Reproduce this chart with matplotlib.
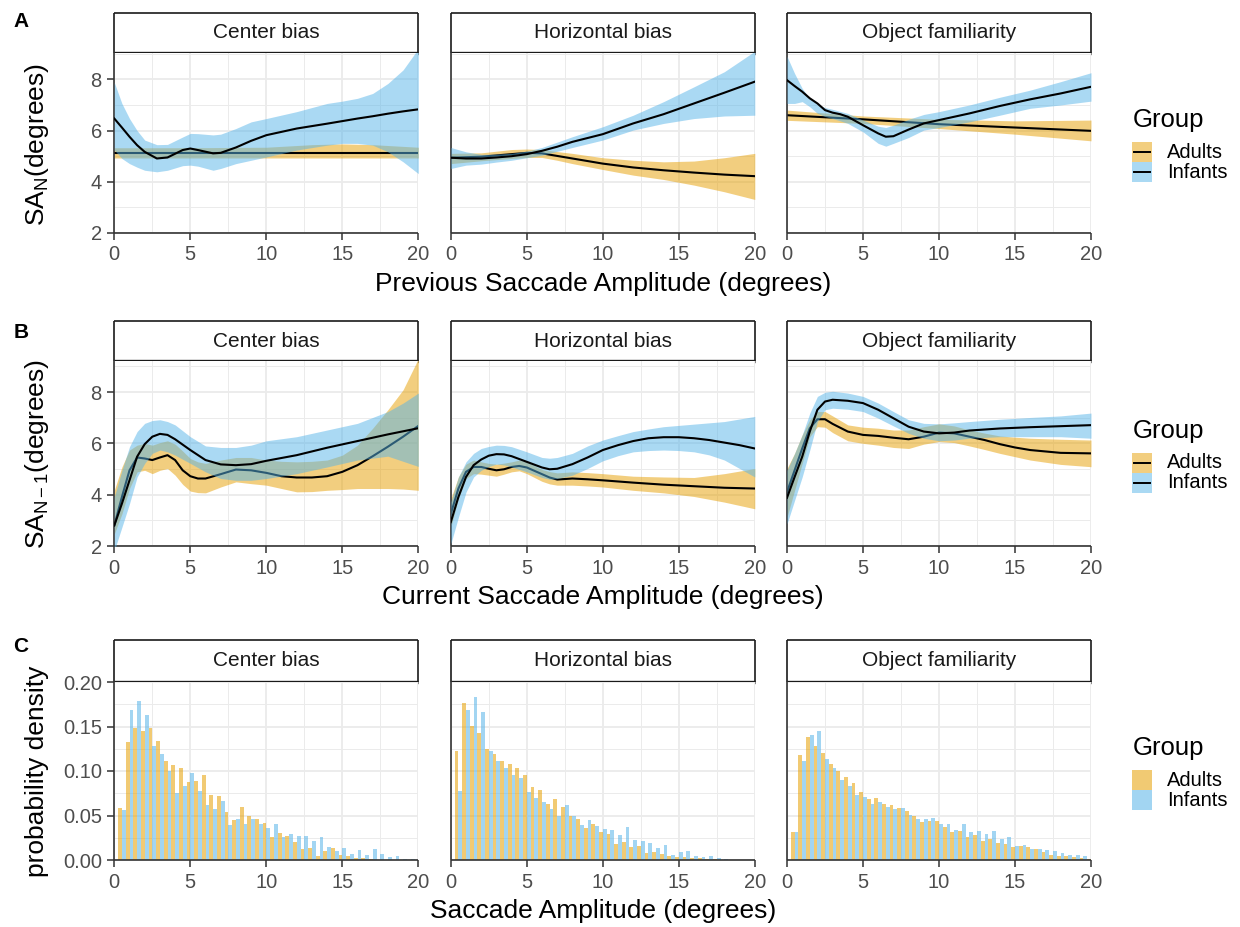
import matplotlib
matplotlib.use('Agg')
import matplotlib.pyplot as plt
from matplotlib.patches import Rectangle
from matplotlib.lines import Line2D

plt.rcParams['font.family'] = ['Liberation Sans', 'DejaVu Sans']
plt.rcParams['mathtext.fontset'] = 'custom'
plt.rcParams['mathtext.rm'] = 'Liberation Sans'
plt.rcParams['mathtext.it'] = 'Liberation Sans:italic'

# ---------------- data ----------------
facets = ['Center bias', 'Horizontal bias', 'Object familiarity']
groups = ['Adults', 'Infants']
x_ticks = [0, 5, 10, 15, 20]

# Panel A: SA_N vs previous saccade amplitude (smooth fit, lower, upper)
A_cb_ad_x = [0, 5, 10, 13, 15, 17, 20]
A_cb_ad_fit = [5.14, 5.14, 5.14, 5.14, 5.14, 5.14, 5.14]
A_cb_ad_lo = [4.93, 4.93, 4.93, 4.93, 4.93, 4.93, 4.93]
A_cb_ad_hi = [5.33, 5.33, 5.35, 5.45, 5.48, 5.45, 5.35]

A_cb_in_x = [0, 0.5, 1, 1.5, 2, 2.8, 3.5, 4.5, 5, 5.5, 6.5, 7, 8, 9, 10, 12, 14, 15, 16, 17, 18, 19, 20]
A_cb_in_fit = [6.47, 6.12, 5.76, 5.43, 5.17, 4.91, 4.95, 5.24, 5.30, 5.24, 5.11, 5.13, 5.34, 5.60, 5.82, 6.08, 6.27, 6.37, 6.47, 6.56, 6.66, 6.75, 6.83]
A_cb_in_lo = [5.24, 4.91, 4.71, 4.57, 4.45, 4.39, 4.45, 4.63, 4.65, 4.61, 4.45, 4.52, 4.71, 4.84, 4.97, 5.24, 5.43, 5.50, 5.50, 5.43, 5.17, 4.78, 4.32]
A_cb_in_hi = [7.88, 7.06, 6.47, 6.00, 5.63, 5.45, 5.46, 5.75, 5.89, 5.88, 5.83, 5.86, 6.08, 6.34, 6.47, 6.74, 7.06, 7.15, 7.26, 7.45, 7.84, 8.37, 9.20]

A_hb_ad_x = [0, 2, 4, 5, 6, 7, 8, 10, 12, 14, 16, 18, 20]
A_hb_ad_fit = [4.94, 4.98, 5.08, 5.13, 5.11, 5.01, 4.91, 4.71, 4.56, 4.45, 4.36, 4.28, 4.22]
A_hb_ad_lo = [4.71, 4.82, 4.91, 4.95, 4.95, 4.84, 4.71, 4.48, 4.26, 4.09, 3.87, 3.61, 3.31]
A_hb_ad_hi = [5.11, 5.13, 5.26, 5.28, 5.26, 5.18, 5.11, 4.94, 4.84, 4.78, 4.81, 4.94, 5.11]

A_hb_in_x = [0, 1, 2, 3, 4, 5, 6, 7, 8, 10, 12, 14, 16, 18, 20]
A_hb_in_fit = [4.94, 4.91, 4.91, 4.95, 5.00, 5.08, 5.21, 5.37, 5.56, 5.86, 6.28, 6.64, 7.06, 7.48, 7.91]
A_hb_in_lo = [4.52, 4.65, 4.69, 4.77, 4.84, 4.94, 5.04, 5.19, 5.34, 5.63, 6.02, 6.28, 6.47, 6.57, 6.60]
A_hb_in_hi = [5.34, 5.17, 5.07, 5.08, 5.11, 5.20, 5.34, 5.55, 5.76, 6.15, 6.60, 7.13, 7.71, 8.30, 9.10]

A_of_ad_x = [0, 5, 10, 15, 20]
A_of_ad_fit = [6.60, 6.44, 6.25, 6.12, 5.99]
A_of_ad_lo = [6.40, 6.28, 6.08, 5.86, 5.60]
A_of_ad_hi = [6.80, 6.57, 6.44, 6.38, 6.41]

A_of_in_x = [0, 0.5, 1, 1.5, 2, 2.5, 3, 3.5, 4, 5, 6, 6.5, 7, 8, 9, 10, 12, 14, 16, 18, 20]
A_of_in_fit = [7.97, 7.74, 7.52, 7.26, 7.06, 6.80, 6.70, 6.64, 6.54, 6.21, 5.89, 5.76, 5.78, 6.04, 6.28, 6.41, 6.67, 6.96, 7.22, 7.45, 7.71]
A_of_in_lo = [7.06, 7.06, 7.13, 6.93, 6.67, 6.55, 6.47, 6.38, 6.28, 5.95, 5.50, 5.39, 5.50, 5.73, 6.02, 6.12, 6.34, 6.60, 6.87, 7.00, 7.15]
A_of_in_hi = [8.90, 8.23, 7.65, 7.25, 7.02, 6.90, 6.83, 6.75, 6.67, 6.41, 6.17, 6.12, 6.21, 6.44, 6.63, 6.74, 7.00, 7.30, 7.58, 7.91, 8.26]

# Panel B: SA_N-1 vs current saccade amplitude
B_cb_ad_x = [0, 0.5, 1, 1.5, 2, 2.5, 3, 3.5, 4, 4.5, 5, 5.5, 6, 7, 8, 9, 10, 11, 12, 13, 14, 15, 16, 17, 18, 19, 20]
B_cb_ad_fit = [2.80, 3.91, 4.95, 5.45, 5.41, 5.35, 5.45, 5.54, 5.35, 4.95, 4.72, 4.63, 4.63, 4.80, 4.98, 4.95, 4.85, 4.72, 4.67, 4.67, 4.72, 4.89, 5.15, 5.50, 5.87, 6.26, 6.68]
B_cb_ad_lo = [2.47, 3.25, 4.24, 4.89, 4.95, 4.82, 4.95, 5.02, 4.76, 4.40, 4.14, 4.08, 4.07, 4.30, 4.50, 4.43, 4.37, 4.24, 4.11, 4.12, 4.17, 4.20, 4.24, 4.24, 4.24, 4.22, 4.17]
B_cb_ad_hi = [4.17, 5.08, 5.74, 5.93, 6.00, 5.93, 6.03, 6.10, 5.97, 5.70, 5.41, 5.28, 5.22, 5.35, 5.45, 5.45, 5.35, 5.30, 5.28, 5.30, 5.35, 5.54, 5.93, 6.59, 7.31, 8.09, 9.30]

B_cb_in_x = [0, 0.5, 1, 1.5, 2, 2.5, 3, 3.5, 4, 5, 6, 7, 8, 9, 10, 12, 14, 16, 18, 19, 20]
B_cb_in_fit = [2.80, 3.65, 4.56, 5.48, 5.97, 6.26, 6.37, 6.33, 6.16, 5.74, 5.35, 5.18, 5.15, 5.19, 5.32, 5.54, 5.83, 6.09, 6.35, 6.47, 6.59]
B_cb_in_lo = [1.82, 2.73, 3.65, 4.69, 5.22, 5.61, 5.74, 5.67, 5.54, 5.22, 4.89, 4.63, 4.56, 4.56, 4.63, 4.82, 5.08, 5.35, 5.50, 5.30, 5.10]
B_cb_in_hi = [3.91, 4.95, 5.87, 6.46, 6.78, 6.89, 6.92, 6.85, 6.72, 6.26, 5.90, 5.84, 5.84, 5.93, 6.10, 6.26, 6.52, 6.78, 7.24, 7.57, 7.96]

B_hb_ad_x = [0, 0.5, 1, 1.5, 2, 2.5, 3, 3.5, 4, 4.5, 5, 6, 6.5, 7, 8, 9, 10, 12, 14, 16, 18, 20]
B_hb_ad_fit = [3.25, 4.24, 4.89, 5.08, 5.08, 5.01, 4.95, 4.99, 5.08, 5.12, 5.06, 4.80, 4.67, 4.59, 4.63, 4.60, 4.56, 4.47, 4.39, 4.33, 4.27, 4.24]
B_hb_ad_lo = [2.73, 3.84, 4.63, 4.82, 4.80, 4.76, 4.72, 4.80, 4.89, 4.93, 4.82, 4.52, 4.42, 4.37, 4.37, 4.34, 4.30, 4.17, 4.07, 3.93, 3.71, 3.45]
B_hb_ad_hi = [3.84, 4.69, 5.19, 5.35, 5.28, 5.22, 5.19, 5.23, 5.28, 5.35, 5.28, 4.98, 4.90, 4.85, 4.89, 4.86, 4.82, 4.72, 4.69, 4.67, 4.82, 5.02]

B_hb_in_x = [0, 0.5, 1, 1.5, 2, 2.5, 3, 3.5, 4, 5, 6, 6.5, 7, 8, 9, 10, 11, 12, 13, 14, 15, 16, 17, 18, 19, 20]
B_hb_in_fit = [2.93, 3.91, 4.69, 5.15, 5.37, 5.52, 5.58, 5.57, 5.50, 5.28, 5.06, 4.99, 5.01, 5.19, 5.45, 5.74, 5.93, 6.09, 6.20, 6.24, 6.24, 6.20, 6.13, 6.03, 5.93, 5.80]
B_hb_in_lo = [2.08, 3.12, 4.10, 4.69, 4.95, 5.10, 5.19, 5.16, 5.08, 4.89, 4.67, 4.60, 4.63, 4.76, 5.02, 5.32, 5.52, 5.67, 5.72, 5.74, 5.72, 5.67, 5.55, 5.35, 5.02, 4.69]
B_hb_in_hi = [3.71, 4.69, 5.28, 5.61, 5.80, 5.88, 5.93, 5.92, 5.87, 5.67, 5.45, 5.42, 5.45, 5.61, 5.90, 6.13, 6.30, 6.46, 6.56, 6.65, 6.70, 6.75, 6.80, 6.85, 6.95, 7.05]

B_of_ad_x = [0, 0.5, 1, 1.5, 2, 2.5, 3, 4, 5, 6, 7, 8, 9, 10, 11, 12, 13, 14, 15, 16, 18, 20]
B_of_ad_fit = [4.10, 4.95, 5.80, 6.59, 6.94, 6.94, 6.76, 6.46, 6.33, 6.29, 6.22, 6.16, 6.26, 6.42, 6.39, 6.26, 6.13, 5.97, 5.84, 5.74, 5.63, 5.61]
B_of_ad_lo = [3.12, 4.17, 5.22, 6.26, 6.65, 6.63, 6.42, 6.10, 6.00, 5.93, 5.84, 5.80, 5.97, 6.07, 6.03, 5.90, 5.76, 5.61, 5.48, 5.35, 5.18, 5.09]
B_of_ad_hi = [5.02, 5.61, 6.33, 6.92, 7.24, 7.24, 7.07, 6.72, 6.63, 6.59, 6.52, 6.52, 6.65, 6.76, 6.68, 6.52, 6.40, 6.29, 6.24, 6.20, 6.16, 6.13]

B_of_in_x = [0, 0.5, 1, 1.5, 2, 2.5, 3, 4, 5, 6, 7, 8, 9, 10, 11, 12, 14, 16, 18, 20]
B_of_in_fit = [3.88, 4.69, 5.48, 6.46, 7.31, 7.63, 7.70, 7.66, 7.57, 7.31, 6.98, 6.65, 6.46, 6.39, 6.42, 6.50, 6.58, 6.63, 6.67, 6.71]
B_of_in_lo = [2.86, 3.78, 4.69, 5.74, 6.85, 7.31, 7.37, 7.33, 7.24, 6.98, 6.68, 6.39, 6.20, 6.10, 6.13, 6.20, 6.26, 6.26, 6.26, 6.20]
B_of_in_hi = [4.95, 5.61, 6.33, 7.18, 7.83, 7.99, 8.03, 7.96, 7.83, 7.57, 7.24, 6.92, 6.78, 6.76, 6.80, 6.85, 6.94, 7.01, 7.07, 7.18]

# Panel C: histogram densities, bins of width 0.5 centred at 0.5, 1.0, ..., 20.0
bin_centers = [0.5 * (i + 1) for i in range(40)]
C_cb_adults = [0.058, 0.133, 0.148, 0.145, 0.148, 0.134, 0.111, 0.107, 0.103, 0.088,
               0.089, 0.095, 0.073, 0.072, 0.054, 0.045, 0.060, 0.050, 0.046, 0.042,
               0.026, 0.030, 0.027, 0.020, 0.012, 0.013, 0.005, 0.010, 0.013, 0.006,
               0.005, 0.002, 0.002, 0.001, 0.0, 0.0, 0.0, 0.0, 0.0, 0.0]
C_cb_infants = [0.056, 0.168, 0.179, 0.163, 0.128, 0.119, 0.100, 0.075, 0.083, 0.098,
                0.078, 0.062, 0.057, 0.066, 0.039, 0.046, 0.040, 0.046, 0.040, 0.036,
                0.041, 0.026, 0.029, 0.027, 0.027, 0.021, 0.026, 0.015, 0.010, 0.013,
                0.007, 0.011, 0.006, 0.012, 0.007, 0.003, 0.004, 0.001, 0.001, 0.0]
C_hb_adults = [0.122, 0.176, 0.151, 0.143, 0.125, 0.119, 0.111, 0.108, 0.103, 0.095,
               0.082, 0.079, 0.063, 0.068, 0.059, 0.050, 0.046, 0.036, 0.040, 0.032,
               0.029, 0.018, 0.020, 0.015, 0.016, 0.008, 0.009, 0.007, 0.004, 0.003,
               0.003, 0.002, 0.002, 0.0015, 0.001, 0.0, 0.0, 0.0, 0.0, 0.0]
C_hb_infants = [0.077, 0.168, 0.183, 0.166, 0.123, 0.111, 0.103, 0.096, 0.092, 0.076,
                0.070, 0.065, 0.057, 0.050, 0.062, 0.049, 0.039, 0.045, 0.038, 0.035,
                0.034, 0.028, 0.037, 0.022, 0.021, 0.019, 0.014, 0.017, 0.006, 0.009,
                0.010, 0.005, 0.003, 0.005, 0.002, 0.001, 0.0, 0.0, 0.0, 0.001]
C_of_adults = [0.032, 0.118, 0.138, 0.128, 0.120, 0.108, 0.100, 0.093, 0.086, 0.076,
               0.069, 0.070, 0.063, 0.062, 0.058, 0.055, 0.050, 0.043, 0.044, 0.044,
               0.037, 0.031, 0.033, 0.026, 0.028, 0.021, 0.024, 0.019, 0.018, 0.015,
               0.016, 0.015, 0.012, 0.009, 0.006, 0.004, 0.004, 0.003, 0.002, 0.001]
C_of_infants = [0.032, 0.111, 0.141, 0.145, 0.113, 0.103, 0.090, 0.083, 0.073, 0.071,
                0.063, 0.065, 0.059, 0.057, 0.058, 0.051, 0.046, 0.046, 0.047, 0.041,
                0.040, 0.034, 0.040, 0.032, 0.033, 0.029, 0.033, 0.024, 0.026, 0.016,
                0.017, 0.012, 0.012, 0.011, 0.010, 0.008, 0.006, 0.006, 0.004, 0.004]

# ---------------- layout / style ----------------
ORANGE = '#E69F00'
BLUE = '#56B4E9'
RIB_ALPHA = 0.5
BAR_ALPHA = 0.55
W, H = 1240, 927
fig = plt.figure(figsize=(W / 100, H / 100), dpi=100)

PX = [(114.3, 418.3), (450.8, 754.8), (787.0, 1091.0)]
ROWS = {
    'A': dict(strip=(12.7, 53.0), panel=(53.0, 233.0), ylim=(2, 9.03)),
    'B': dict(strip=(321.0, 361.0), panel=(361.0, 546.0), ylim=(2, 9.21)),
    'C': dict(strip=(640.0, 682.0), panel=(682.0, 860.0), ylim=(0, 0.2)),
}


def add_ax(x0, y0, x1, y1):
    return fig.add_axes([x0 / W, 1 - y1 / H, (x1 - x0) / W, (y1 - y0) / H])


def style_panel(ax, row, first):
    ax.set_xlim(0, 20)
    ax.set_ylim(*ROWS[row]['ylim'])
    ax.set_xticks(x_ticks)
    ax.set_xticklabels([str(t) for t in x_ticks])
    ax.set_xticks([2.5, 7.5, 12.5, 17.5], minor=True)
    if row == 'C':
        ax.set_yticks([0, 0.05, 0.10, 0.15, 0.20])
        ax.set_yticklabels(['0.00', '0.05', '0.10', '0.15', '0.20'])
        ax.set_yticks([0.025, 0.075, 0.125, 0.175], minor=True)
    else:
        ax.set_yticks([2, 4, 6, 8])
        ax.set_yticklabels(['2', '4', '6', '8'])
        ax.set_yticks([3, 5, 7, 9], minor=True)
    ax.grid(which='major', color='#EBEBEB', lw=1.3)
    ax.grid(which='minor', color='#EBEBEB', lw=0.7)
    ax.set_axisbelow(True)
    for s in ['top', 'right']:
        ax.spines[s].set_visible(False)
    for s in ['left', 'bottom']:
        ax.spines[s].set_color('#333333')
        ax.spines[s].set_linewidth(1.2)
        ax.spines[s].set_capstyle('butt')
    ax.tick_params(which='major', length=5, width=1.1, color='#333333',
                   labelsize=14.5, labelcolor='#4D4D4D', pad=4)
    ax.tick_params(which='minor', length=0)
    if not first:
        ax.tick_params(axis='y', which='both', left=False, labelleft=False)


def add_strip(x0, x1, y0, y1, label):
    sax = add_ax(x0, y0, x1, y1)
    sax.set_xticks([])
    sax.set_yticks([])
    sax.set_facecolor('white')
    for s in sax.spines.values():
        s.set_color('#1A1A1A')
        s.set_linewidth(1.2)
        s.set_capstyle('butt')
    sax.spines['bottom'].set_linewidth(2.4)
    sax.text(0.5, 0.5, label, ha='center', va='center', fontsize=15, color='#1A1A1A',
             transform=sax.transAxes)


def draw_smooth(ax, x, fit, lo, hi, color, z):
    ax.fill_between(x, lo, hi, color=color, alpha=RIB_ALPHA, lw=0, zorder=z)
    ax.plot(x, fit, color='black', lw=1.5, zorder=z + 0.5, solid_joinstyle='round')


smooth_data = {
    'A': [
        ((A_cb_ad_x, A_cb_ad_fit, A_cb_ad_lo, A_cb_ad_hi), (A_cb_in_x, A_cb_in_fit, A_cb_in_lo, A_cb_in_hi)),
        ((A_hb_ad_x, A_hb_ad_fit, A_hb_ad_lo, A_hb_ad_hi), (A_hb_in_x, A_hb_in_fit, A_hb_in_lo, A_hb_in_hi)),
        ((A_of_ad_x, A_of_ad_fit, A_of_ad_lo, A_of_ad_hi), (A_of_in_x, A_of_in_fit, A_of_in_lo, A_of_in_hi)),
    ],
    'B': [
        ((B_cb_ad_x, B_cb_ad_fit, B_cb_ad_lo, B_cb_ad_hi), (B_cb_in_x, B_cb_in_fit, B_cb_in_lo, B_cb_in_hi)),
        ((B_hb_ad_x, B_hb_ad_fit, B_hb_ad_lo, B_hb_ad_hi), (B_hb_in_x, B_hb_in_fit, B_hb_in_lo, B_hb_in_hi)),
        ((B_of_ad_x, B_of_ad_fit, B_of_ad_lo, B_of_ad_hi), (B_of_in_x, B_of_in_fit, B_of_in_lo, B_of_in_hi)),
    ],
}
hist_data = [(C_cb_adults, C_cb_infants), (C_hb_adults, C_hb_infants), (C_of_adults, C_of_infants)]

for row in ['A', 'B', 'C']:
    r = ROWS[row]
    for i, (x0, x1) in enumerate(PX):
        add_strip(x0, x1, r['strip'][0], r['strip'][1], facets[i])
        ax = add_ax(x0, r['panel'][0], x1, r['panel'][1])
        style_panel(ax, row, i == 0)
        if row in ('A', 'B'):
            ad, inf = smooth_data[row][i]
            draw_smooth(ax, *ad, ORANGE, 2)
            draw_smooth(ax, *inf, BLUE, 3)
        else:
            ad, inf = hist_data[i]
            ax.bar([c - 0.25 for c in bin_centers], ad, width=0.25, align='edge',
                   color=ORANGE, alpha=BAR_ALPHA, lw=0, zorder=2)
            ax.bar(bin_centers, inf, width=0.25, align='edge',
                   color=BLUE, alpha=BAR_ALPHA, lw=0, zorder=2)

# ---------------- overlay: titles, letters, legends ----------------
ov = fig.add_axes([0, 0, 1, 1])
ov.set_xlim(0, W)
ov.set_ylim(H, 0)
ov.axis('off')

xc = (PX[0][0] + PX[2][1]) / 2
ov.text(xc, 284, 'Previous Saccade Amplitude (degrees)', ha='center', va='center', fontsize=19)
ov.text(xc, 597, 'Current Saccade Amplitude (degrees)', ha='center', va='center', fontsize=19)
ov.text(xc, 911, 'Saccade Amplitude (degrees)', ha='center', va='center', fontsize=19)

ov.text(37, sum(ROWS['A']['panel']) / 2 + 2, r'SA$_{\mathregular{N}}$(degrees)', rotation=90,
        ha='center', va='center', fontsize=19)
ov.text(37, sum(ROWS['B']['panel']) / 2, r'SA$_{\mathregular{N-1}}$(degrees)', rotation=90,
        ha='center', va='center', fontsize=19)
ov.text(37, sum(ROWS['C']['panel']) / 2, 'probability density', rotation=90,
        ha='center', va='center', fontsize=19)

for letter, yy in [('A', 21), ('B', 333), ('C', 646)]:
    ov.text(21, yy, letter, ha='center', va='center', fontsize=15, fontweight='bold')

for row in ['A', 'B', 'C']:
    yc = sum(ROWS[row]['panel']) / 2
    ov.text(1133, yc - 23, 'Group', ha='left', va='center', fontsize=18.5)
    for j, (g, col) in enumerate(zip(groups, [ORANGE, BLUE])):
        ky = yc - 1 + 20 * j
        alpha = RIB_ALPHA if row != 'C' else BAR_ALPHA
        ov.add_patch(Rectangle((1132, ky), 20, 20, facecolor=col, alpha=alpha, edgecolor='none'))
        if row != 'C':
            ov.add_line(Line2D([1134, 1150], [ky + 10, ky + 10], color='black', lw=1.4))
        ov.text(1167, ky + 10, g, ha='left', va='center', fontsize=14.5)

fig.savefig('out.png', dpi=100)
